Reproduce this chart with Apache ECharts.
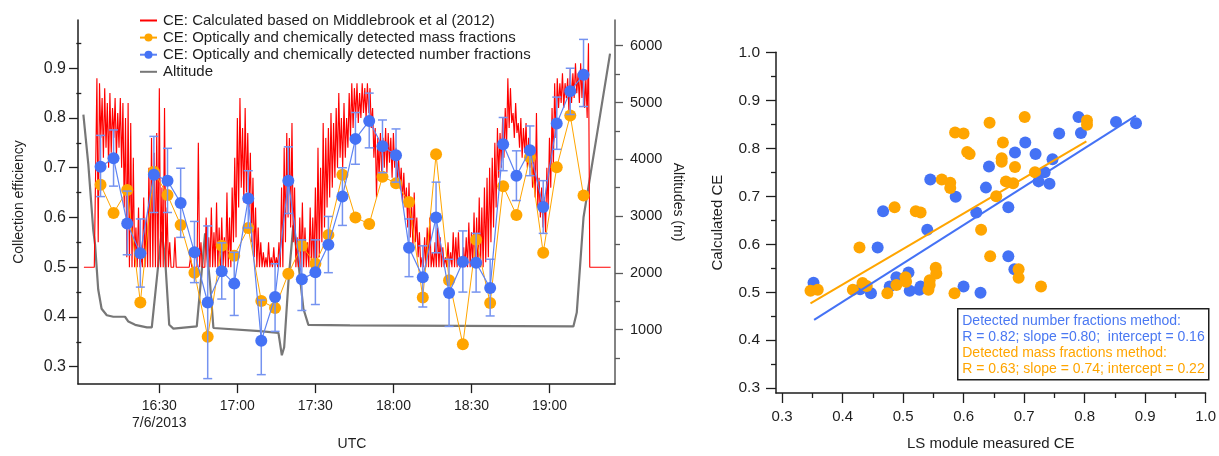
<!DOCTYPE html>
<html>
<head>
<meta charset="utf-8">
<script src="https://cdn.jsdelivr.net/npm/echarts@6/dist/echarts.min.js"></script>
<style>
  html, body { margin: 0; padding: 0; background: #fff; }
  #chart { width: 1219px; height: 456px; }
</style>
</head>
<body>
<div id="chart"></div>
<script>
// ---- Time series, flight of 7/6/2013 (times in minutes after 16:00 UTC) ----
const sampleMinutes = [7.4, 12.4, 17.65, 22.7, 27.9, 33.15, 38.2, 43.5, 48.6, 54.0,
  58.8, 64.2, 69.2, 74.5, 79.6, 84.8, 90.0, 95.0, 100.4, 105.4,
  110.7, 115.8, 121.0, 126.0, 131.3, 136.4, 141.4, 146.7, 151.8, 157.2,
  162.2, 167.3, 172.5, 177.6, 182.8, 188.0, 193.1];

// CE from optically and chemically detected number fractions, with its range
const ceNumber = [0.702, 0.719, 0.588, 0.528, 0.686, 0.674, 0.629, 0.530, 0.429, 0.492,
  0.467, 0.638, 0.352, 0.440, 0.674, 0.476, 0.490, 0.545, 0.642, 0.758,
  0.794, 0.743, 0.725, 0.539, 0.480, 0.600, 0.448, 0.511, 0.509, 0.458,
  0.747, 0.684, 0.735, 0.621, 0.789, 0.854, 0.887];
const ceNumberHigh = [0.765, 0.776, 0.653, 0.597, 0.763, 0.739, 0.699, 0.592, 0.583, 0.549,
  0.530, 0.694, 0.434, 0.507, 0.742, 0.555, 0.555, 0.602, 0.700, 0.811,
  0.850, 0.796, 0.778, 0.597, 0.543, 0.671, 0.516, 0.573, 0.568, 0.516,
  0.801, 0.734, 0.784, 0.674, 0.842, 0.900, 0.958];
const ceNumberLow = [0.642, 0.663, 0.525, 0.460, 0.610, 0.610, 0.560, 0.469, 0.276, 0.436,
  0.403, 0.579, 0.284, 0.371, 0.608, 0.413, 0.425, 0.489, 0.584, 0.707,
  0.740, 0.690, 0.671, 0.481, 0.420, 0.529, 0.381, 0.450, 0.450, 0.402,
  0.694, 0.634, 0.684, 0.568, 0.737, 0.807, 0.823];

// CE from optically and chemically detected mass fractions
const ceMass = [0.666, 0.609, 0.655, 0.429, 0.692, 0.645, 0.585, 0.489, 0.360, 0.543,
  0.523, 0.579, 0.432, 0.418, 0.487, 0.543, 0.507, 0.565, 0.686, 0.600,
  0.587, 0.682, 0.669, 0.631, 0.439, 0.727, 0.474, 0.345, 0.555, 0.428,
  0.663, 0.605, 0.721, 0.529, 0.701, 0.805, 0.644];

// Calculated CE (Middlebrook et al 2012): per-minute high / low, first minute = 16:01
const calcFirstMinute = 1;
const calcHigh = [
  0.50, 0.50, 0.50, 0.50, 0.50, 0.88, 0.87, 0.84, 0.86, 0.83,
  0.85, 0.82, 0.84, 0.81, 0.84, 0.83, 0.80, 0.83, 0.79, 0.72,
  0.58, 0.62, 0.52, 0.64, 0.60, 0.70, 0.76, 0.73, 0.77, 0.86,
  0.66, 0.82, 0.62, 0.55, 0.50, 0.56, 0.50, 0.50, 0.50, 0.50,
  0.50, 0.52, 0.50, 0.50, 0.75, 0.55, 0.50, 0.60, 0.56, 0.62,
  0.57, 0.63, 0.58, 0.60, 0.56, 0.65, 0.60, 0.66, 0.72, 0.80,
  0.84, 0.78, 0.82, 0.77, 0.73, 0.68, 0.62, 0.58, 0.55, 0.53,
  0.52, 0.55, 0.52, 0.54, 0.52, 0.55, 0.66, 0.74, 0.77, 0.76,
  0.79, 0.66, 0.56, 0.60, 0.63, 0.58, 0.55, 0.62, 0.60, 0.66,
  0.74, 0.70, 0.79, 0.76, 0.78, 0.81, 0.79, 0.82, 0.85, 0.80,
  0.83, 0.80, 0.85, 0.87, 0.86, 0.87, 0.85, 0.87, 0.86, 0.87,
  0.86, 0.82, 0.78, 0.76, 0.77, 0.76, 0.78, 0.77, 0.76, 0.77,
  0.74, 0.72, 0.70, 0.69, 0.66, 0.67, 0.63, 0.65, 0.60, 0.57,
  0.52, 0.56, 0.58, 0.60, 0.53, 0.55, 0.58, 0.56, 0.54, 0.52,
  0.55, 0.53, 0.57, 0.56, 0.57, 0.52, 0.54, 0.56, 0.59, 0.57,
  0.61, 0.60, 0.64, 0.62, 0.66, 0.68, 0.70, 0.72, 0.75, 0.78,
  0.77, 0.80, 0.82, 0.88, 0.86, 0.81, 0.83, 0.79, 0.80, 0.78,
  0.79, 0.76, 0.74, 0.72, 0.81, 0.68, 0.66, 0.64, 0.70, 0.76,
  0.82, 0.87, 0.88, 0.87, 0.89, 0.87, 0.88, 0.90, 0.89, 0.91,
  0.89, 0.91, 0.90, 0.88, 0.95, 0.50, 0.50, 0.50, 0.50, 0.50,
  0.50, 0.50, 0.50];
const calcLow = [
  0.50, 0.50, 0.50, 0.50, 0.50, 0.55, 0.76, 0.72, 0.74, 0.70,
  0.73, 0.76, 0.72, 0.74, 0.70, 0.62, 0.52, 0.50, 0.50, 0.50,
  0.50, 0.50, 0.50, 0.50, 0.50, 0.50, 0.50, 0.50, 0.50, 0.50,
  0.50, 0.50, 0.50, 0.50, 0.50, 0.50, 0.50, 0.50, 0.50, 0.50,
  0.50, 0.50, 0.50, 0.50, 0.50, 0.50, 0.50, 0.50, 0.50, 0.50,
  0.50, 0.50, 0.50, 0.50, 0.50, 0.50, 0.50, 0.55, 0.56, 0.62,
  0.66, 0.63, 0.65, 0.62, 0.55, 0.52, 0.50, 0.50, 0.50, 0.50,
  0.50, 0.50, 0.50, 0.50, 0.50, 0.50, 0.50, 0.55, 0.60, 0.58,
  0.55, 0.50, 0.50, 0.50, 0.50, 0.50, 0.50, 0.50, 0.50, 0.50,
  0.52, 0.55, 0.58, 0.62, 0.64, 0.66, 0.68, 0.70, 0.72, 0.70,
  0.72, 0.74, 0.76, 0.78, 0.80, 0.79, 0.80, 0.81, 0.80, 0.81,
  0.78, 0.72, 0.64, 0.68, 0.69, 0.70, 0.69, 0.71, 0.68, 0.70,
  0.67, 0.66, 0.63, 0.62, 0.58, 0.56, 0.54, 0.55, 0.52, 0.50,
  0.50, 0.50, 0.50, 0.50, 0.50, 0.50, 0.50, 0.50, 0.50, 0.50,
  0.50, 0.50, 0.50, 0.50, 0.50, 0.50, 0.50, 0.50, 0.50, 0.50,
  0.50, 0.50, 0.50, 0.50, 0.51, 0.52, 0.55, 0.58, 0.62, 0.68,
  0.70, 0.72, 0.74, 0.78, 0.79, 0.76, 0.77, 0.74, 0.72, 0.73,
  0.70, 0.70, 0.66, 0.64, 0.62, 0.60, 0.58, 0.57, 0.62, 0.66,
  0.70, 0.76, 0.82, 0.83, 0.82, 0.84, 0.81, 0.83, 0.84, 0.85,
  0.83, 0.84, 0.82, 0.80, 0.50, 0.50, 0.50, 0.50, 0.50, 0.50,
  0.50, 0.50, 0.50];

// Aircraft altitude (m)
const altMinutes = [0.8, 2.7, 4.6, 5.3, 6.5, 7.8, 9.8, 12.3, 16.8, 18.1,
  20.7, 25.2, 27.1, 30.9, 32.2, 33.8, 35.4, 44.4, 47.6, 49.5,
  50.8, 68.7, 75.8, 77.1, 78.0, 79.6, 81.5, 83.5, 85.4, 87.3,
  103.3, 189.2, 190.5, 193.1, 198.8, 203.3];
const altMeters = [4787, 3910, 2750, 2498, 1707, 1368, 1254, 1227, 1227, 1142,
  1085, 1040, 1040, 2724, 2271, 1085, 1017, 1057, 2695, 1820,
  1029, 973, 944, 549, 690, 1820, 2837, 2159, 1368, 1085,
  1074, 1057, 1300, 2980, 4588, 5860];

// ---- Calculated vs LS-module measured CE ----
const numMeasured = [0.352, 0.429, 0.447, 0.458, 0.467, 0.478, 0.489, 0.509, 0.511, 0.527,
  0.529, 0.540, 0.545, 0.587, 0.600, 0.621, 0.628, 0.637, 0.642, 0.674,
  0.674, 0.684, 0.685, 0.702, 0.719, 0.724, 0.734, 0.742, 0.747, 0.758,
  0.790, 0.794, 0.852, 0.885];
const numCalculated = [0.520, 0.506, 0.498, 0.593, 0.669, 0.512, 0.531, 0.541, 0.503, 0.505,
  0.512, 0.630, 0.735, 0.699, 0.512, 0.666, 0.499, 0.718, 0.762, 0.677,
  0.575, 0.548, 0.791, 0.812, 0.788, 0.731, 0.750, 0.726, 0.777, 0.831,
  0.865, 0.832, 0.855, 0.852];
const massMeasured = [0.347, 0.359, 0.417, 0.428, 0.433, 0.440, 0.474, 0.486, 0.489, 0.504,
  0.505, 0.521, 0.529, 0.542, 0.544, 0.544, 0.554, 0.555, 0.564, 0.578,
  0.578, 0.585, 0.586, 0.600, 0.606, 0.610, 0.629, 0.643, 0.644, 0.654,
  0.663, 0.663, 0.665, 0.670, 0.682, 0.685, 0.691, 0.691, 0.701, 0.718,
  0.728, 0.804, 0.804];
const massCalculated = [0.503, 0.505, 0.505, 0.593, 0.519, 0.513, 0.498, 0.677, 0.515, 0.531,
  0.522, 0.669, 0.666, 0.505, 0.515, 0.525, 0.551, 0.539, 0.735, 0.728,
  0.717, 0.498, 0.833, 0.831, 0.792, 0.788, 0.630, 0.853, 0.575, 0.700,
  0.779, 0.772, 0.812, 0.731, 0.727, 0.761, 0.548, 0.530, 0.865, 0.750,
  0.512, 0.858, 0.849];

// Linear fits (slope, intercept) and the x-span each fit line covers
const fitNumber = { slope: 0.80, intercept: 0.16, from: 0.353, to: 0.885 };
const fitMass = { slope: 0.74, intercept: 0.22, from: 0.347, to: 0.803 };

// Tick positions
const timeTicks = [30, 60, 90, 120, 150, 180];
const ceTicks = [0.3, 0.4, 0.5, 0.6, 0.7, 0.8, 0.9];
const ceMinorTicks = [0.35, 0.45, 0.55, 0.65, 0.75, 0.85, 0.95];
const altTicks = [1000, 2000, 3000, 4000, 5000, 6000];
const altMinorTicks = [500, 1500, 2500, 3500, 4500, 5500];
const scTicks = [0.3, 0.4, 0.5, 0.6, 0.7, 0.8, 0.9, 1.0];
const scMinorTicks = [0.35, 0.45, 0.55, 0.65, 0.75, 0.85, 0.95];

// ---- styling ----
const FONT = "'Liberation Sans', Arial, sans-serif";
const BOX_FONT = "14px 'Liberation Sans', Arial, sans-serif";
const INK = '#1e1e1e';
const RED = '#ff0000';
const ORANGE = '#ffa500';
const BLUE = '#4472f5';
const BLUE_LINE = '#5d83f3';
const BAR_BLUE = '#7593f0';
const GRAY = '#777777';

const NAME_CALC = 'CE: Calculated based on Middlebrook et al (2012)';
const NAME_MASS = 'CE: Optically and chemically detected mass fractions';
const NAME_NUM = 'CE: Optically and chemically detected number fractions';
const NAME_ALT = 'Altitude';

function hhmm(m) {
  const h = 16 + Math.floor(m / 60);
  const mm = Math.round(m % 60);
  return h + ':' + String(mm).padStart(2, '0');
}

// series data built from the arrays above
const calcLine = [];
calcHigh.forEach((hi, i) => {
  const m = calcFirstMinute + i;
  calcLine.push([m, hi]);
  calcLine.push([m + 0.5, calcLow[i]]);
});
const altLine = altMinutes.map((m, i) => [m, altMeters[i]]);
const massLine = sampleMinutes.map((m, i) => [m, ceMass[i]]);
const numLine = sampleMinutes.map((m, i) => [m, ceNumber[i]]);
const numBars = sampleMinutes.map((m, i) => [m, ceNumberLow[i], ceNumberHigh[i]]);
const numScatter = numMeasured.map((x, i) => [x, numCalculated[i]]);
const massScatter = massMeasured.map((x, i) => [x, massCalculated[i]]);
const fitPts = f => [[f.from, f.intercept + f.slope * f.from], [f.to, f.intercept + f.slope * f.to]];

// axis builders
function mainAxis(o) {
  return Object.assign({
    type: 'value',
    splitLine: { show: false },
    axisLine: { show: true, onZero: false, lineStyle: { color: INK, width: 1.5 } },
    axisTick: { show: true, inside: false, length: 9, customValues: o.ticks, lineStyle: { color: INK, width: 1.3 } },
    axisLabel: { customValues: o.ticks, color: INK, fontFamily: FONT, fontSize: 15 },
    nameLocation: 'middle',
    nameTextStyle: { color: INK, fontFamily: FONT, fontSize: 14 }
  }, o.extra);
}
function minorAxis(o) {
  return Object.assign({
    type: 'value',
    splitLine: { show: false },
    axisLine: { show: false },
    axisLabel: { show: false },
    axisTick: { show: true, inside: false, length: 5, customValues: o.ticks, lineStyle: { color: o.color || INK, width: 1.3 } }
  }, o.extra);
}

const T_MIN = -1.27, T_MAX = 205.2;
const CE_MIN = 0.265, CE_MAX = 0.997;
const ALT_MIN = 41, ALT_MAX = 6453;
const SC_MIN = 0.29, SC_MAX = 1.0;

const option = {
  backgroundColor: '#ffffff',
  animation: false,
  textStyle: { fontFamily: FONT },
  grid: [
    { left: 78, top: 20, width: 537, height: 378.3 },
    { left: 776, top: 52.3, width: 431.3, height: 344.4 }
  ],
  legend: {
    data: [
      { name: NAME_CALC, itemStyle: { opacity: 0 } },
      { name: NAME_MASS },
      { name: NAME_NUM },
      { name: NAME_ALT, itemStyle: { opacity: 0 } }
    ],
    orient: 'vertical',
    left: 134,
    top: 8,
    itemWidth: 17,
    itemHeight: 10,
    itemGap: 2.1,
    textStyle: { color: INK, fontFamily: FONT, fontSize: 15, lineHeight: 15, padding: [0, 0, 0, 1] }
  },
  xAxis: [
    mainAxis({
      ticks: timeTicks,
      extra: {
        gridIndex: 0, min: T_MIN, max: T_MAX,
        name: 'UTC', nameGap: 37,
        nameTextStyle: { color: INK, fontFamily: FONT, fontSize: 14, padding: [0, 0, 0, 11] },
        axisTick: { show: true, length: 9, customValues: timeTicks, lineStyle: { color: INK, width: 1.3 } },
        axisLabel: {
          customValues: timeTicks, color: INK, fontFamily: FONT, fontSize: 14, margin: 14, lineHeight: 17,
          formatter: v => (v === 30 ? hhmm(v) + '\n7/6/2013' : hhmm(v))
        }
      }
    }),
    mainAxis({
      ticks: scTicks,
      extra: {
        gridIndex: 1, min: SC_MIN, max: SC_MAX,
        name: 'LS module measured CE', nameGap: 43,
        nameTextStyle: { color: INK, fontFamily: FONT, fontSize: 15 },
        axisTick: { show: true, length: 10, customValues: scTicks, lineStyle: { color: INK, width: 1.3 } },
        axisLabel: { customValues: scTicks, color: INK, fontFamily: FONT, fontSize: 15, margin: 16, formatter: v => v.toFixed(1) }
      }
    }),
    minorAxis({ ticks: scMinorTicks, extra: { gridIndex: 1, min: SC_MIN, max: SC_MAX, position: 'bottom', offset: 0 } })
  ],
  yAxis: [
    mainAxis({
      ticks: ceTicks,
      extra: {
        gridIndex: 0, min: CE_MIN, max: CE_MAX, position: 'left',
        name: 'Collection efficiency', nameGap: 52, nameRotate: 90,
        axisLabel: { customValues: ceTicks, color: INK, fontFamily: FONT, fontSize: 16, margin: 12, formatter: v => v.toFixed(1) }
      }
    }),
    minorAxis({ ticks: ceMinorTicks, extra: { gridIndex: 0, min: CE_MIN, max: CE_MAX, position: 'left', offset: 0 } }),
    mainAxis({
      ticks: altTicks,
      extra: {
        gridIndex: 0, min: ALT_MIN, max: ALT_MAX, position: 'right',
        name: 'Altitudes (m)', nameGap: 56, nameRotate: -90,
        axisLine: { show: true, lineStyle: { color: '#5a5a5a', width: 1.5 } },
        axisTick: { show: true, length: 8, customValues: altTicks, lineStyle: { color: '#5a5a5a', width: 1.3 } },
        axisLabel: { customValues: altTicks, color: INK, fontFamily: FONT, fontSize: 14.5, margin: 15, formatter: v => String(v) }
      }
    }),
    minorAxis({ ticks: altMinorTicks, color: '#5a5a5a', extra: { gridIndex: 0, min: ALT_MIN, max: ALT_MAX, position: 'right', offset: 0 } }),
    mainAxis({
      ticks: scTicks,
      extra: {
        gridIndex: 1, min: SC_MIN, max: SC_MAX, position: 'left',
        name: 'Calculated CE', nameGap: 51, nameRotate: 90,
        nameTextStyle: { color: INK, fontFamily: FONT, fontSize: 15 },
        axisTick: { show: true, length: 10, customValues: scTicks, lineStyle: { color: INK, width: 1.3 } },
        axisLabel: { customValues: scTicks, color: INK, fontFamily: FONT, fontSize: 15.5, margin: 16, formatter: v => v.toFixed(1) }
      }
    }),
    minorAxis({ ticks: scMinorTicks, extra: { gridIndex: 1, min: SC_MIN, max: SC_MAX, position: 'left', offset: 0 } })
  ],
  series: [
    {
      name: NAME_ALT, type: 'line', xAxisIndex: 0, yAxisIndex: 2,
      data: altLine, showSymbol: false, symbol: 'none',
      lineStyle: { color: GRAY, width: 2.2 }, itemStyle: { color: GRAY }, z: 1
    },
    {
      name: NAME_CALC, type: 'line', xAxisIndex: 0, yAxisIndex: 0,
      data: calcLine, showSymbol: false, symbol: 'none',
      lineStyle: { color: RED, width: 1.15 }, itemStyle: { color: RED }, z: 2
    },
    {
      name: NAME_MASS, type: 'line', xAxisIndex: 0, yAxisIndex: 0,
      data: massLine, symbol: 'circle', symbolSize: 12,
      lineStyle: { color: ORANGE, width: 1 }, itemStyle: { color: ORANGE }, z: 3
    },
    {
      name: 'number fraction range', type: 'custom', xAxisIndex: 0, yAxisIndex: 0,
      data: numBars, encode: { x: 0, y: [1, 2] }, z: 4,
      renderItem: function (params, api) {
        const top = api.coord([api.value(0), api.value(2)]);
        const bot = api.coord([api.value(0), api.value(1)]);
        const cap = 4.5;
        const st = { stroke: BAR_BLUE, lineWidth: 1.5 };
        return {
          type: 'group',
          children: [
            { type: 'line', shape: { x1: top[0], y1: top[1], x2: bot[0], y2: bot[1] }, style: st },
            { type: 'line', shape: { x1: top[0] - cap, y1: top[1], x2: top[0] + cap, y2: top[1] }, style: st },
            { type: 'line', shape: { x1: bot[0] - cap, y1: bot[1], x2: bot[0] + cap, y2: bot[1] }, style: st }
          ]
        };
      }
    },
    {
      name: NAME_NUM, type: 'line', xAxisIndex: 0, yAxisIndex: 0,
      data: numLine, symbol: 'circle', symbolSize: 12,
      lineStyle: { color: BLUE_LINE, width: 1.2 }, itemStyle: { color: BLUE }, z: 5
    },
    {
      name: 'number scatter', type: 'scatter', xAxisIndex: 1, yAxisIndex: 4,
      data: numScatter, symbolSize: 12, itemStyle: { color: BLUE, opacity: 1 }, z: 3
    },
    {
      name: 'mass scatter', type: 'scatter', xAxisIndex: 1, yAxisIndex: 4,
      data: massScatter, symbolSize: 12, itemStyle: { color: ORANGE, opacity: 1 }, z: 4
    },
    {
      name: 'number fit', type: 'line', xAxisIndex: 1, yAxisIndex: 4,
      data: fitPts(fitNumber), symbol: 'none', lineStyle: { color: BLUE, width: 2 }, z: 5
    },
    {
      name: 'mass fit', type: 'line', xAxisIndex: 1, yAxisIndex: 4,
      data: fitPts(fitMass), symbol: 'none', lineStyle: { color: ORANGE, width: 2 }, z: 5
    }
  ],
  graphic: [
    {
      type: 'group', left: 957, top: 308, z: 100,
      children: [
        { type: 'rect', shape: { x: 0, y: 0, width: 251, height: 71 }, style: { fill: '#ffffff', stroke: INK, lineWidth: 1.5 } },
        { type: 'text', x: 4.5, y: 12, style: { text: 'Detected number fractions method:', fill: '#4a78f2', font: BOX_FONT, verticalAlign: 'middle' } },
        { type: 'text', x: 4.5, y: 28.5, style: { text: 'R = 0.82; slope =0.80;  intercept = 0.16', fill: '#4a78f2', font: BOX_FONT, verticalAlign: 'middle' } },
        { type: 'text', x: 4.5, y: 44.5, style: { text: 'Detected mass fractions method:', fill: ORANGE, font: BOX_FONT, verticalAlign: 'middle' } },
        { type: 'text', x: 4.5, y: 60.5, style: { text: 'R = 0.63; slope = 0.74; intercept = 0.22', fill: ORANGE, font: BOX_FONT, verticalAlign: 'middle' } }
      ]
    }
  ]
};

const chart = echarts.init(document.getElementById('chart'), null, { renderer: 'canvas' });
chart.setOption(option);
</script>
</body>
</html>
